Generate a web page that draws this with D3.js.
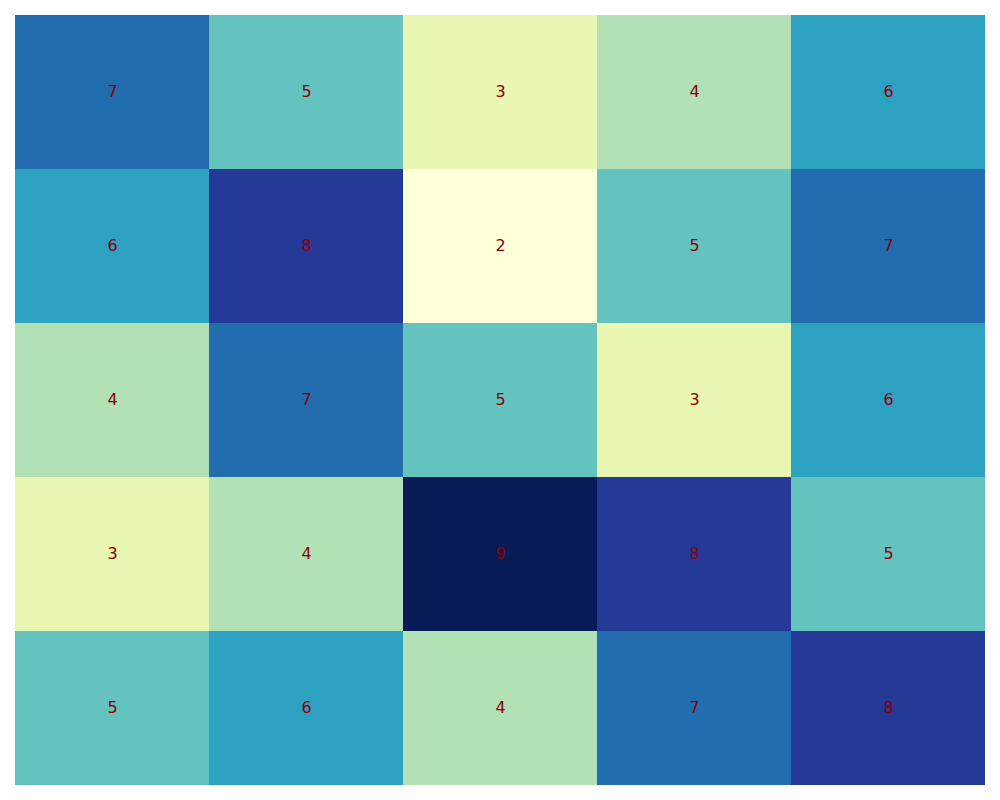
<!DOCTYPE html>
<html>
<head>
<meta charset="utf-8">
<script src="https://cdn.jsdelivr.net/npm/d3@7"></script>
<style>
html, body { margin: 0; padding: 0; background: #ffffff; }
svg { display: block; }
</style>
</head>
<body>
<svg id="chart" width="1000" height="800"></svg>
<script>
const rows = ["r0", "r1", "r2", "r3", "r4"];
const cols = ["c0", "c1", "c2", "c3", "c4"];
const values = [
  [7, 5, 3, 4, 6],
  [6, 8, 2, 5, 7],
  [4, 7, 5, 3, 6],
  [3, 4, 9, 8, 5],
  [5, 6, 4, 7, 8]
];
const paletteYlGnBu = ["#ffffd9", "#edf8b1", "#c7e9b4", "#7fcdbb", "#41b6c4", "#1d91c0", "#225ea8", "#253494", "#081d58"];

const svg = d3.select("#chart");
const margin = {left: 15, right: 15, top: 15, bottom: 15};
const W = 1000, H = 800;

const x = d3.scaleBand().domain(cols).range([margin.left, W - margin.right]).padding(0);
const y = d3.scaleBand().domain(rows).range([margin.top, H - margin.bottom]).padding(0);

const vmin = 2, vmax = 9;
const color = d3.scaleLinear()
  .domain(paletteYlGnBu.map((_, i) => vmin + (vmax - vmin) * i / (paletteYlGnBu.length - 1)))
  .range(paletteYlGnBu)
  .interpolate(d3.interpolateRgb);

const cells = [];
values.forEach((row, i) => row.forEach((v, j) => cells.push({r: rows[i], c: cols[j], v})));

svg.append("g").selectAll("rect").data(cells).join("rect")
  .attr("x", d => x(d.c))
  .attr("y", d => y(d.r))
  .attr("width", x.bandwidth())
  .attr("height", y.bandwidth())
  .attr("fill", d => color(d.v))
  .attr("shape-rendering", "crispEdges");

svg.append("g").selectAll("text").data(cells).join("text")
  .attr("x", d => x(d.c) + x.bandwidth() / 2 + 0.5)
  .attr("y", d => y(d.r) + y.bandwidth() / 2 - 1)
  .attr("text-anchor", "middle")
  .attr("dominant-baseline", "central")
  .attr("font-family", "DejaVu Sans, sans-serif")
  .attr("font-size", 16)
  .attr("fill", "#8b0000")
  .text(d => d.v);
</script>
</body>
</html>
